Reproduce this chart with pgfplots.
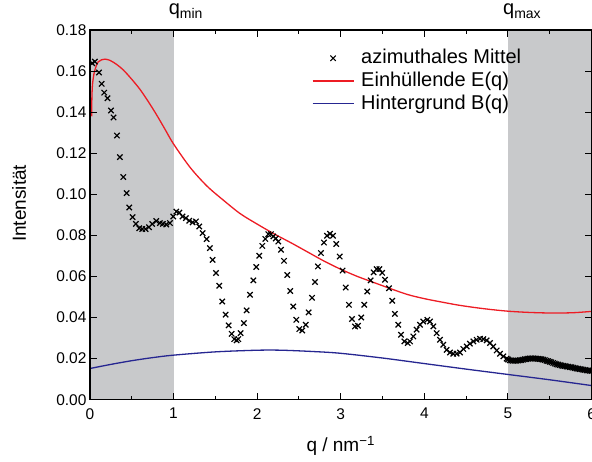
\documentclass[border=0pt]{standalone}
\usepackage{fontspec}
\setmainfont{Liberation Sans}
\usepackage{pgfplots}
\pgfplotsset{compat=1.18}
\definecolor{bandgray}{RGB}{200,201,203}
\definecolor{envred}{RGB}{237,28,36}
\definecolor{bgblue}{RGB}{38,38,145}
\begin{document}
\begin{tikzpicture}
\begin{axis}[
  scale only axis, width=502pt, height=370pt,
  xmin=0, xmax=6, ymin=0, ymax=0.18,
  xtick={0,1,2,3,4,5,6}, minor x tick num=1,
  ytick={0,0.02,0.04,0.06,0.08,0.10,0.12,0.14,0.16,0.18},
  scaled y ticks=false,
  yticklabel style={/pgf/number format/.cd, fixed, fixed zerofill, precision=2},
  xticklabel style={yshift=-5pt},
  /pgf/number format/assume math mode=true,
  tick label style={font=\fontsize{15.5}{18}\selectfont},
  major tick length=7pt, minor tick length=4pt,
  tick style={black, line width=1pt},
  axis line style={line width=1.3pt},
  axis on top,
  xlabel={q / nm\textsuperscript{−1}},
  ylabel={Intensität},
  label style={font=\fontsize{19}{22}\selectfont},
  xlabel style={at={(axis description cs:0.5,-0.1405)}, anchor=base},
  ylabel style={at={(axis description cs:-0.1414,0.531)}, anchor=center},
  legend style={draw=none, fill=none, at={(axis description cs:0.4422,0.9495)}, anchor=north west,
    inner sep=0pt, font=\fontsize{20}{22}\selectfont, row sep=4pt,
    nodes={inner sep=0pt, text height=14.6pt, text depth=4.2pt},
    /tikz/every odd column/.append style={column sep=7pt}},
  legend cell align=left,
  legend image code/.code={\draw[mark repeat=2,mark phase=2,#1] plot coordinates {(0pt,0pt) (20.5pt,0pt) (41pt,0pt)};},
]
\fill[bandgray] (axis cs:0,0) rectangle (axis cs:1,0.18);
\fill[bandgray] (axis cs:5,0) rectangle (axis cs:6,0.18);

\addplot[only marks, mark=x, mark size=3.8pt, mark options={line width=1.2pt, black}] coordinates {
(0.028,0.1638) (0.060,0.1646) (0.108,0.1593) (0.140,0.1538) (0.171,0.1495) (0.210,0.1468)
(0.251,0.1408) (0.283,0.1374) (0.323,0.1286) (0.359,0.1181) (0.399,0.1084) (0.439,0.1006)
(0.470,0.0936) (0.510,0.0889) (0.550,0.0856) (0.590,0.0835) (0.626,0.0831) (0.666,0.0831)
(0.706,0.0840) (0.745,0.0856) (0.793,0.0870) (0.837,0.0860) (0.873,0.0856) (0.913,0.0853)
(0.957,0.0860) (0.997,0.0892) (1.033,0.0916) (1.069,0.0911) (1.108,0.0892) (1.148,0.0884)
(1.188,0.0871) (1.228,0.0863) (1.268,0.0868) (1.307,0.0843) (1.348,0.0811) (1.396,0.0782)
(1.435,0.0738) (1.467,0.0681) (1.507,0.0617) (1.547,0.0555) (1.583,0.0478) (1.623,0.0414)
(1.659,0.0362) (1.695,0.0321) (1.726,0.0295) (1.754,0.0289) (1.774,0.0295) (1.802,0.0324)
(1.842,0.0373) (1.874,0.0435) (1.914,0.0511) (1.954,0.0581) (1.989,0.0646) (2.025,0.0701)
(2.061,0.0749) (2.097,0.0783) (2.133,0.0806) (2.165,0.0806) (2.193,0.0795) (2.222,0.0785)
(2.253,0.0770) (2.285,0.0730) (2.321,0.0676) (2.360,0.0607) (2.396,0.0529) (2.432,0.0454)
(2.468,0.0389) (2.504,0.0344) (2.540,0.0337) (2.580,0.0365) (2.616,0.0425) (2.656,0.0496)
(2.691,0.0573) (2.727,0.0649) (2.763,0.0714) (2.799,0.0765) (2.835,0.0798) (2.871,0.0808)
(2.907,0.0798) (2.946,0.0758) (2.987,0.0697) (3.022,0.0629) (3.059,0.0546) (3.098,0.0462)
(3.134,0.0393) (3.170,0.0357) (3.206,0.0360) (3.245,0.0400) (3.281,0.0462) (3.317,0.0527)
(3.358,0.0581) (3.393,0.0620) (3.429,0.0636) (3.462,0.0636) (3.495,0.0618) (3.529,0.0584)
(3.577,0.0543) (3.616,0.0482) (3.648,0.0418) (3.688,0.0365) (3.720,0.0316) (3.760,0.0284)
(3.800,0.0276) (3.828,0.0284) (3.868,0.0308) (3.907,0.0341) (3.947,0.0365) (3.987,0.0381)
(4.035,0.0389) (4.067,0.0381) (4.107,0.0357) (4.147,0.0324) (4.187,0.0292) (4.226,0.0268)
(4.266,0.0243) (4.306,0.0230) (4.346,0.0224) (4.386,0.0224) (4.426,0.0230) (4.466,0.0247)
(4.506,0.0259) (4.545,0.0273) (4.585,0.0284) (4.625,0.0292) (4.665,0.0297) (4.705,0.0295)
(4.745,0.0289) (4.785,0.0276) (4.824,0.0259) (4.865,0.0240) (4.904,0.0224) (4.944,0.0211)
(4.984,0.0200) (5.00,0.0196) (5.02,0.0192) (5.04,0.0191) (5.06,0.0190) (5.08,0.0190)
(5.10,0.0190) (5.12,0.0191) (5.14,0.0192) (5.16,0.0193) (5.18,0.0195) (5.20,0.0197)
(5.22,0.0198) (5.24,0.0200) (5.26,0.0201) (5.28,0.0201) (5.30,0.0201) (5.32,0.0201)
(5.34,0.0200) (5.36,0.0199) (5.38,0.0198) (5.40,0.0197) (5.42,0.0195) (5.44,0.0193)
(5.46,0.0190) (5.48,0.0188) (5.50,0.0185) (5.52,0.0182) (5.54,0.0179) (5.56,0.0176)
(5.58,0.0173) (5.60,0.0171) (5.62,0.0169) (5.64,0.0167) (5.66,0.0165) (5.68,0.0164)
(5.70,0.0162) (5.72,0.0161) (5.74,0.0159) (5.76,0.0158) (5.78,0.0156) (5.80,0.0154)
(5.82,0.0152) (5.84,0.0151) (5.86,0.0149) (5.88,0.0148) (5.90,0.0146) (5.92,0.0145)
(5.94,0.0143) (5.96,0.0142) (5.98,0.0141) (6.00,0.0140)
};
\addlegendentry{azimuthales Mittel}

\addplot[envred, line width=1.3pt, smooth] coordinates {
(0.02,0.138) (0.024,0.148) (0.032,0.154) (0.05,0.159) (0.075,0.1625) (0.10,0.1645) (0.14,0.1655)
(0.18,0.1658) (0.24,0.1652) (0.32,0.1632) (0.40,0.1605) (0.50,0.1560) (0.60,0.1510)
(0.70,0.1450) (0.80,0.1385) (0.90,0.1315) (1.00,0.1245) (1.20,0.1130) (1.40,0.1040)
(1.60,0.0970) (1.80,0.0905) (2.00,0.0855) (2.20,0.0808) (2.40,0.0765) (2.60,0.0720)
(2.80,0.0675) (3.00,0.0635) (3.20,0.0600) (3.40,0.0570) (3.60,0.0540) (3.80,0.0512)
(4.00,0.0492) (4.20,0.0476) (4.40,0.0461) (4.60,0.0449) (4.80,0.0439) (5.00,0.0431)
(5.20,0.0426) (5.40,0.0423) (5.60,0.0422) (5.80,0.0424) (6.00,0.0430)
};
\addlegendentry{Einhüllende E(q)}

\addplot[bgblue, line width=1.3pt, smooth] coordinates {
(0,0.0152) (0.25,0.0172) (0.5,0.0190) (0.75,0.0205) (1.0,0.0217) (1.5,0.0233) (2.0,0.0241)
(2.3,0.0241) (2.7,0.0234) (3.0,0.0226) (3.5,0.0203) (4.0,0.0176) (4.5,0.0149) (5.0,0.0123)
(5.5,0.0097) (6.0,0.0069)
};
\addlegendentry{Hintergrund B(q)}

\coordinate (qmin) at (axis cs:1,0.18);
\coordinate (qmax) at (axis cs:5,0.18);
\coordinate (bl) at (rel axis cs:0,0);
\coordinate (tr) at (rel axis cs:1,1);
\end{axis}
\node[anchor=base west, inner sep=0pt, font=\fontsize{20}{24}\selectfont] at ([xshift=-5pt,yshift=15pt]qmin) {q\textsubscript{min}};
\node[anchor=base west, inner sep=0pt, font=\fontsize{20}{24}\selectfont] at ([xshift=-5pt,yshift=15pt]qmax) {q\textsubscript{max}};
\pgfresetboundingbox
\path[use as bounding box] ([xshift=-90pt,yshift=-62pt]bl) rectangle ([xshift=0.4pt,yshift=30pt]tr);
\end{tikzpicture}
\end{document}
